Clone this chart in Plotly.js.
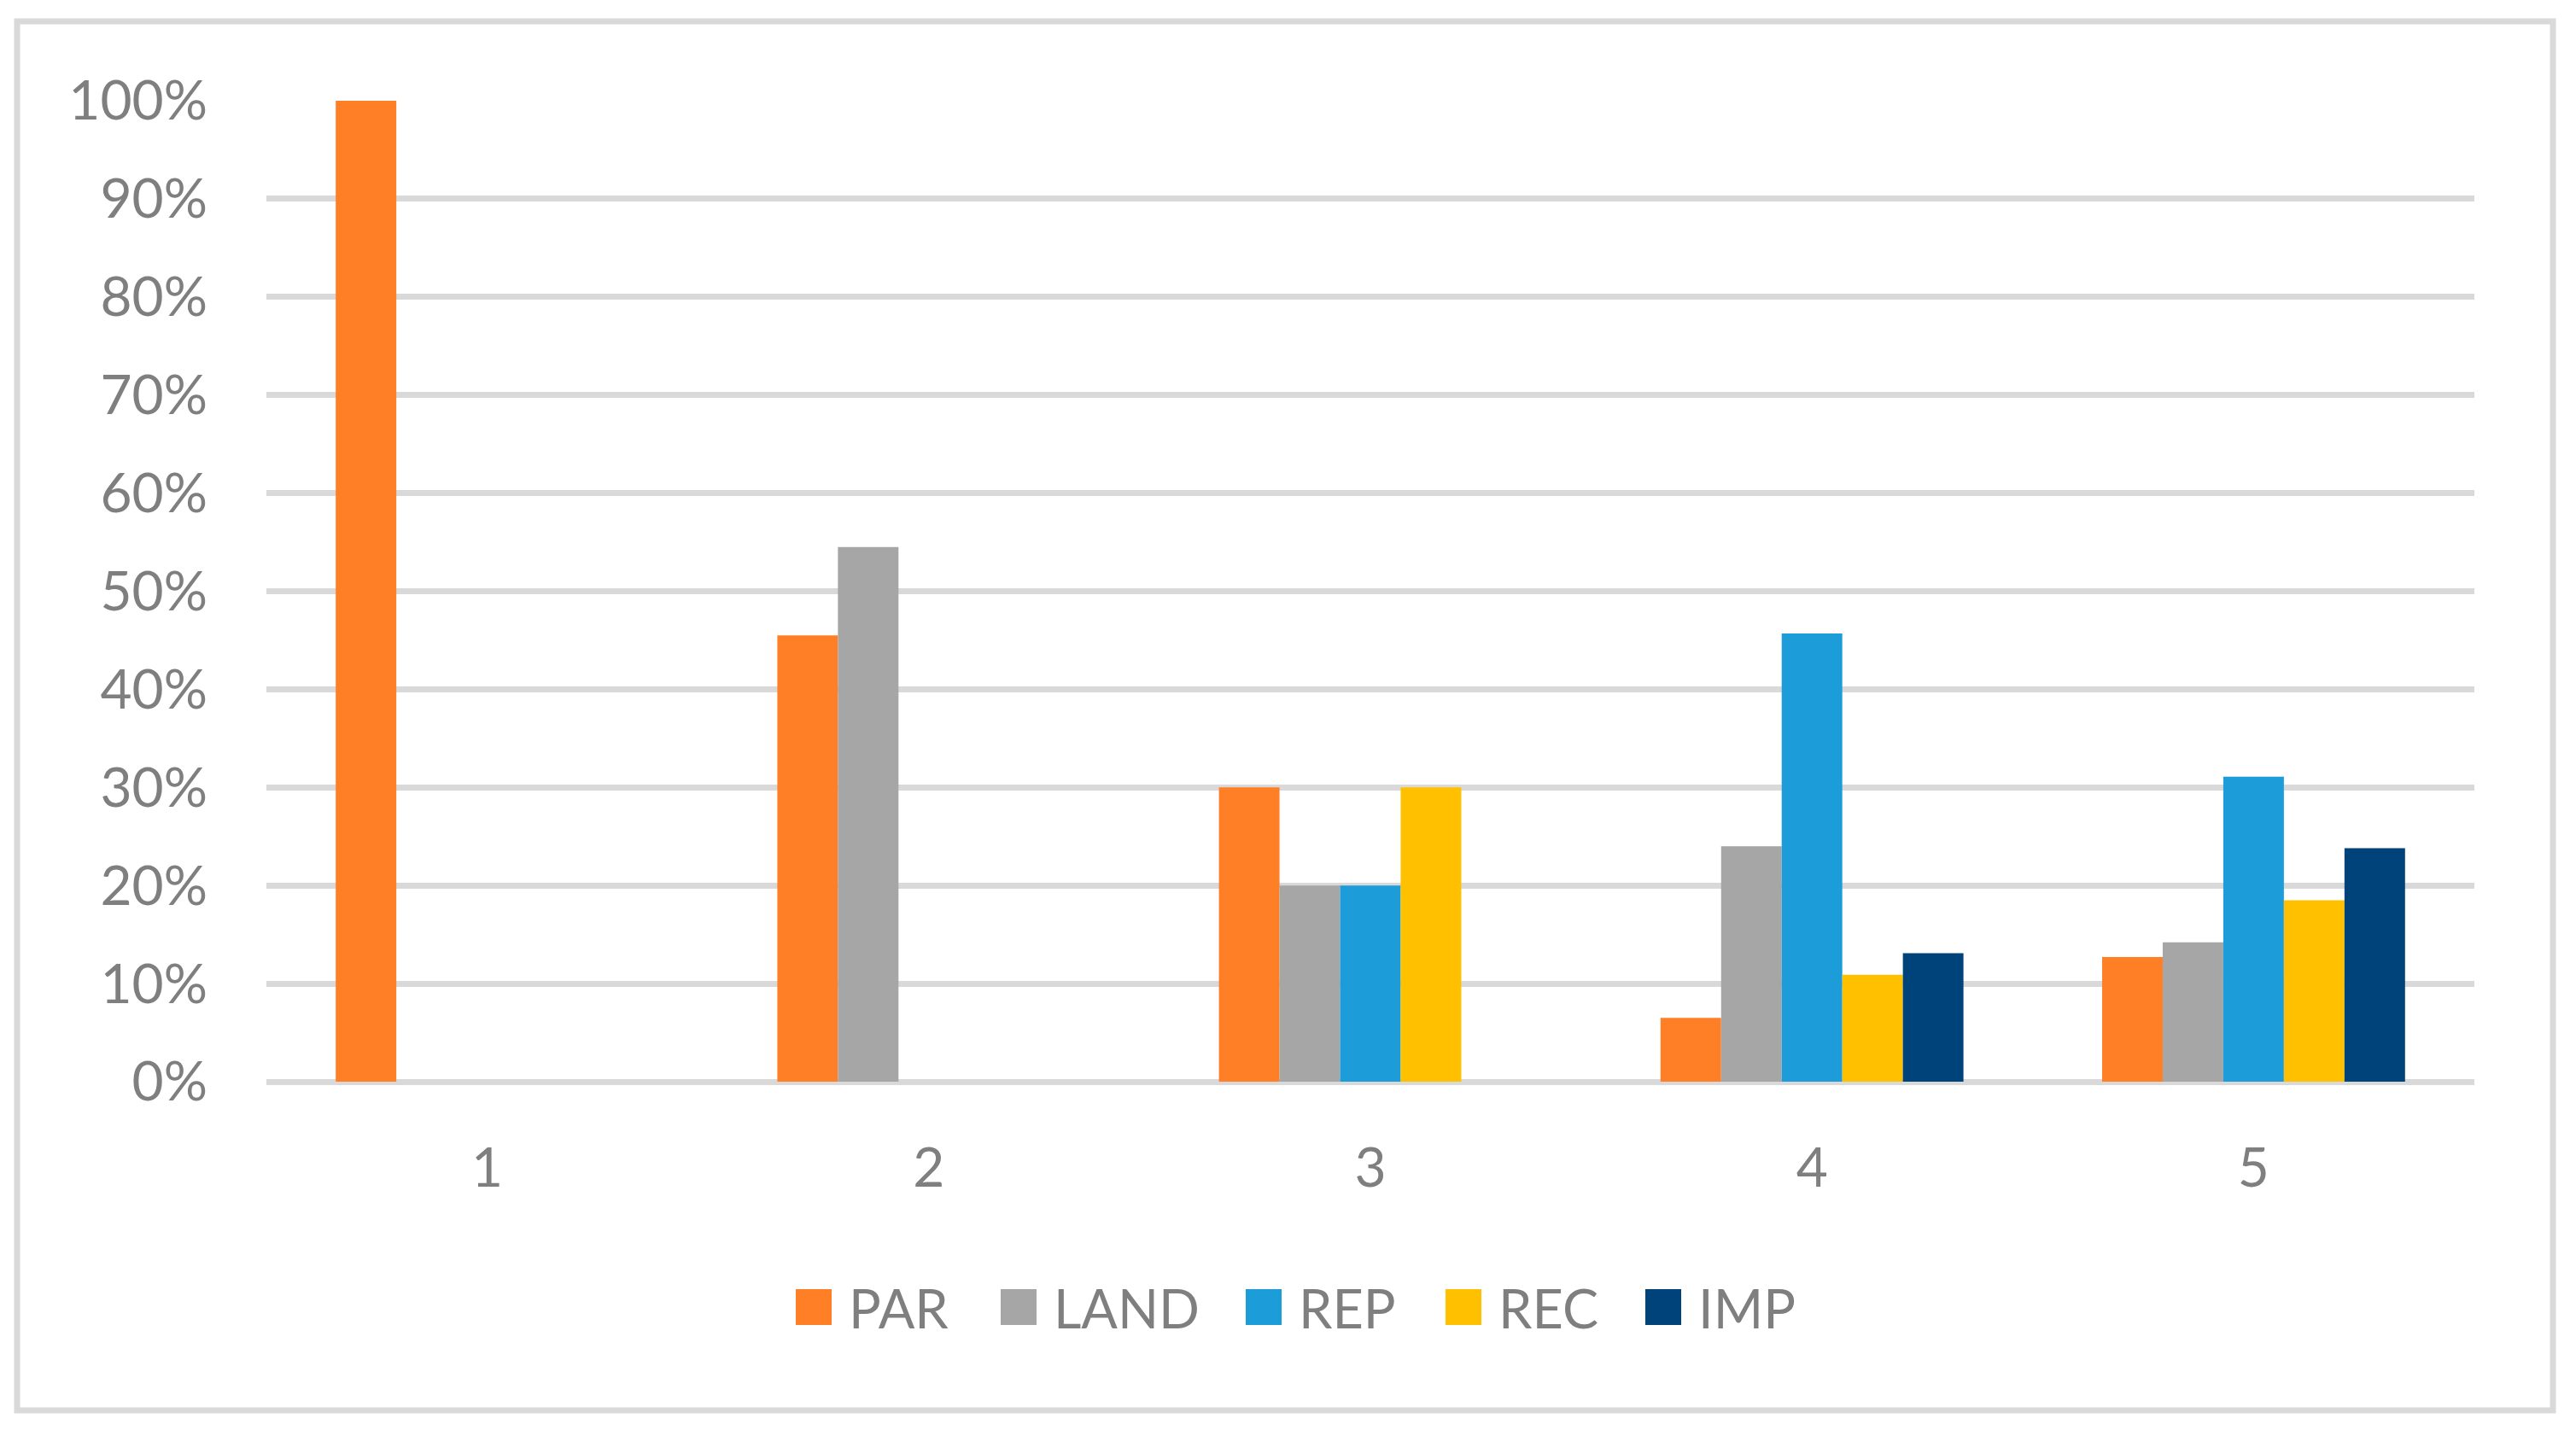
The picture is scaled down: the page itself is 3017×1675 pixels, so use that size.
<!DOCTYPE html>
<html>
<head>
<meta charset="utf-8">
<script src="https://cdn.plot.ly/plotly-3.0.1.min.js"></script>
<style>
html,body{margin:0;padding:0;background:#fff;}
#chart{width:3017px;height:1675px;}
</style>
</head>
<body>
<div id="chart"></div>
<script>
// ---- data ----
const categories = ["1", "2", "3", "4", "5"];
const seriesNames = ["PAR", "LAND", "REP", "REC", "IMP"];
const seriesColors = ["#FF7F27", "#A6A6A6", "#1C9CD8", "#FFC000", "#00437A"];
const PAR  = [1.00, 0.455, 0.30, 0.065, 0.127];
const LAND = [0,    0.545, 0.20, 0.240, 0.142];
const REP  = [0,    0,     0.20, 0.457, 0.311];
const REC  = [0,    0,     0.30, 0.109, 0.185];
const IMP  = [0,    0,     0,    0.131, 0.238];
const yTickVals = [0, 0.1, 0.2, 0.3, 0.4, 0.5, 0.6, 0.7, 0.8, 0.9, 1.0];

const seriesValues = [PAR, LAND, REP, REC, IMP];

// ---- layout geometry (pixels) ----
const W = 3017, H = 1675;
const M = {l: 312, r: 119, t: 118, b: 408};
const PW = W - M.l - M.r, PH = H - M.t - M.b;
const px = x => (x - M.l) / PW;
const py = y => (H - M.b - y) / PH;

const FONT = "Lato, 'Open Sans', sans-serif";
const TXT = "#7F7F7F";
const GRID = "#D9D9D9";

const traces = seriesNames.map((name, i) => ({
  type: "bar",
  name: name,
  x: categories,
  y: seriesValues[i],
  marker: {color: seriesColors[i], line: {width: 0}},
  hoverinfo: "x+y+name"
}));

// custom legend (large square swatches like the original)
const legendSquareX = [932, 1172, 1459, 1693, 1927];
const shapes = [];
const annotations = [];
seriesNames.forEach((name, i) => {
  const x0 = legendSquareX[i];
  shapes.push({
    type: "rect", xref: "paper", yref: "paper",
    x0: px(x0), x1: px(x0 + 42), y0: py(1552), y1: py(1510),
    fillcolor: seriesColors[i], line: {width: 0}
  });
  annotations.push({
    xref: "paper", yref: "paper",
    x: px(x0 + 60), y: py(1531),
    xanchor: "left", yanchor: "middle",
    text: name, showarrow: false,
    font: {family: FONT, size: 63, color: TXT}
  });
});
// outer chart frame
shapes.push({
  type: "rect", xref: "paper", yref: "paper",
  x0: px(20), x1: px(2990), y0: py(1652), y1: py(25),
  line: {color: GRID, width: 7}, fillcolor: "rgba(0,0,0,0)", layer: "below"
});

const layout = {
  width: W, height: H,
  margin: M,
  paper_bgcolor: "#FFFFFF",
  plot_bgcolor: "#FFFFFF",
  showlegend: false,
  barmode: "group",
  bargap: 0.314,
  bargroupgap: 0,
  font: {family: FONT, size: 64, color: TXT},
  xaxis: {
    type: "category",
    range: [-0.5, 4.5],
    showgrid: false,
    zeroline: false,
    showline: false,
    ticks: "",
    ticklabelstandoff: 58,
    tickfont: {family: FONT, size: 64, color: TXT},
    fixedrange: true
  },
  yaxis: {
    range: [0, 1.0],
    tickvals: yTickVals,
    tickformat: ".0%",
    showgrid: true,
    gridcolor: GRID,
    gridwidth: 7,
    zeroline: true,
    zerolinecolor: GRID,
    zerolinewidth: 7,
    showline: false,
    ticks: "",
    ticklabelstandoff: 68,
    tickfont: {family: FONT, size: 64, color: TXT},
    fixedrange: true
  },
  shapes: shapes,
  annotations: annotations
};

Plotly.newPlot("chart", traces, layout, {displayModeBar: false, staticPlot: true});
</script>
</body>
</html>
